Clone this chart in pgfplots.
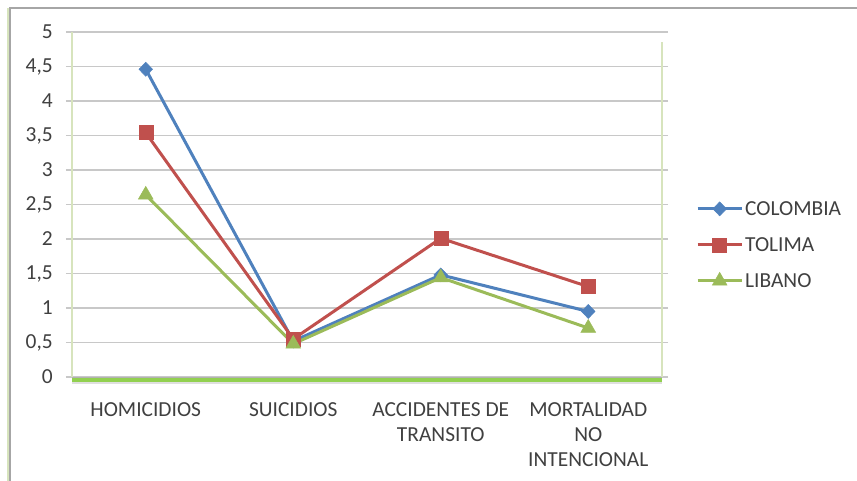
\documentclass[border=0pt]{standalone}
\usepackage{pgfplots}
\pgfplotsset{compat=1.18}
\usepackage{fontspec}
\setmainfont{Carlito}
\definecolor{cblue}{HTML}{4F81BD}
\definecolor{cred}{HTML}{C0504D}
\definecolor{cgreen}{HTML}{9BBB59}
\definecolor{axgreen}{HTML}{92D050}
\definecolor{bordgreen}{HTML}{D7E4BD}
\definecolor{gridc}{HTML}{C8C8C8}
\definecolor{txt}{HTML}{404040}
\begin{document}
\begin{tikzpicture}
\useasboundingbox (0,0) rectangle (857bp,481bp);
\draw[color=bordgreen, line width=1.5bp] (8bp,0) -- (8bp,473bp);
\draw[color=gray!70, line width=1.5bp] (10bp,0) -- (10bp,473bp) -- (857bp,473bp);
\begin{axis}[
  at={(72bp,104bp)}, anchor=south west,
  scale only axis, width=590bp, height=345bp,
  clip=false,
  xmin=-0.5, xmax=3.5, ymin=0, ymax=5,
  ytick={0,0.5,...,5},
  xtick={0,1,2,3},
  xticklabels={HOMICIDIOS,SUICIDIOS,{ACCIDENTES DE\\TRANSITO},{MORTALIDAD\\NO\\INTENCIONAL}},
  xticklabel style={align=center, font=\fontsize{21.5}{25.5}\selectfont, text=txt, inner sep=0pt, yshift=-19bp},
  yticklabel style={font=\fontsize{21.5}{25.5}\selectfont, text=txt, inner sep=0pt, xshift=-13bp},
  /pgf/number format/assume math mode=true,
  yticklabel={\pgfmathprintnumber[use comma, fixed]{\tick}},
  ymajorgrids, grid style={color=gridc, line width=1.5bp},
  tick align=outside,
  ytick style={color=gridc, line width=1.5bp},
  xtick style={draw=none},
  major tick length=6bp,
  extra x ticks={0.5,1.5,2.5},
  extra x tick labels={},
  extra x tick style={grid=none, tick align=center, major tick length=8bp, tick style={color=gray!70, line width=1bp, draw=gray!70}},
  axis line style={draw=none},
  legend style={at={(1.0576,0.383)}, anchor=west, draw=none, fill=none, inner sep=0pt,
    font=\fontsize{21.5}{25.5}\selectfont, text=txt,
    nodes={text height=14bp, text depth=0bp, inner sep=2bp},
    row sep=18bp},
  legend cell align=left,
  legend image code/.code={\draw[mark repeat=2, mark phase=2] plot coordinates {(0bp,0bp) (22bp,0bp) (44bp,0bp)};},
  every axis plot/.append style={line width=3bp},
]
\draw[color=bordgreen, line width=2bp] (rel axis cs:0,0) -- (rel axis cs:0,1);
\draw[color=bordgreen, line width=2bp] (rel axis cs:1,0) -- (rel axis cs:1,0.97);
\draw[color=gray!25, line width=2bp] ([yshift=-6bp]rel axis cs:0,0) -- ([yshift=-6bp]rel axis cs:1,0);
\draw[color=axgreen, line width=5bp] ([yshift=-2.5bp]rel axis cs:0,0) -- ([yshift=-2.5bp]rel axis cs:1,0);
\draw[color=gray!60, line width=1bp] (rel axis cs:0,0) -- (rel axis cs:1,0);
\addplot[color=cblue, mark=diamond*, mark size=7bp, mark options={solid, xscale=1.3, line width=0.5bp}] coordinates {(0,4.46) (1,0.52) (2,1.48) (3,0.95)};
\addlegendentry{COLOMBIA}
\addplot[color=cred, mark=square*, mark size=7bp, mark options={solid, line width=0.5bp}] coordinates {(0,3.54) (1,0.55) (2,2.01) (3,1.31)};
\addlegendentry{TOLIMA}
\addplot[color=cgreen, mark=triangle*, mark size=8.5bp, mark options={solid, line width=0.5bp}] coordinates {(0,2.64) (1,0.48) (2,1.44) (3,0.71)};
\addlegendentry{LIBANO}
\end{axis}
\end{tikzpicture}
\end{document}
